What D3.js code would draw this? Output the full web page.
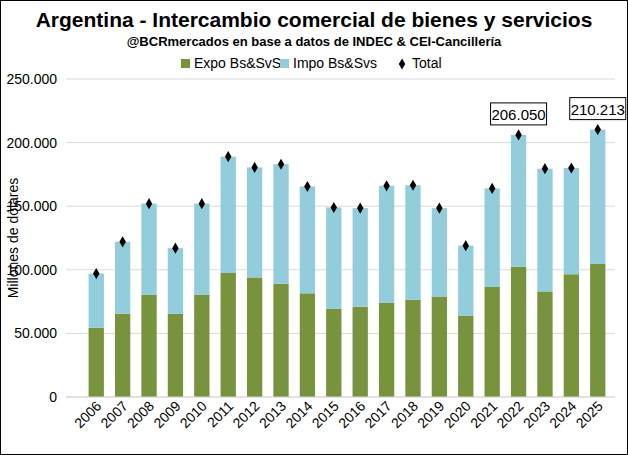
<!DOCTYPE html>
<html><head><meta charset="utf-8">
<script src="https://cdn.jsdelivr.net/npm/d3@7"></script>
<style>body{margin:0;background:#fff}svg{font-family:"Liberation Sans Narrow","Liberation Sans",sans-serif}</style>
</head><body><svg id="chart" width="628" height="455"></svg>
<script>
const years = ["2006","2007","2008","2009","2010","2011","2012","2013","2014","2015","2016","2017","2018","2019","2020","2021","2022","2023","2024","2025"];
const expo = [54500,65500,80500,65500,80500,97500,94000,89000,81500,69500,71000,74000,76500,79000,64000,86500,102500,83000,96500,104600];
const total = [97000,122000,152000,117000,152000,189000,180500,183000,165500,149000,148500,166000,166500,148500,119000,164000,206050,179500,180000,210213];
const impo = total.map((t, i) => t - expo[i]);
const yTicks = [0,50000,100000,150000,200000,250000];
const labelled = ["2022","2025"];

const svg = d3.select("#chart");
const fmt = v => d3.format(",")(v).replace(/,/g, ".");

svg.append("rect").attr("x",0.5).attr("y",0.5).attr("width",627).attr("height",454)
    .style("fill","#fff").style("stroke","#000");

const x = d3.scaleBand().domain(years).range([82, 612]).paddingInner(0.42).paddingOuter(0.25);
const y = d3.scaleLinear().domain([0, 250000]).range([397, 79]);

// gridlines
svg.append("g").selectAll("line").data(yTicks).enter().append("line")
    .attr("x1", 66).attr("x2", 615)
    .attr("y1", d => y(d)).attr("y2", d => y(d))
    .style("stroke", "#d9d9d9");

svg.append("g").selectAll("text").data(yTicks).enter().append("text")
    .attr("x", 57).attr("y", d => y(d) + 5)
    .attr("text-anchor", "end").style("font-size", "14px")
    .text(d => fmt(d));

// bars
svg.append("g").selectAll("rect").data(years).enter().append("rect")
    .attr("x", d => x(d)).attr("width", x.bandwidth())
    .attr("y", (d, i) => y(expo[i])).attr("height", (d, i) => y(0) - y(expo[i]))
    .style("fill", "#77933c");
svg.append("g").selectAll("rect").data(years).enter().append("rect")
    .attr("x", d => x(d)).attr("width", x.bandwidth())
    .attr("y", (d, i) => y(total[i])).attr("height", (d, i) => y(expo[i]) - y(total[i]))
    .style("fill", "#92cddc");

// total markers
svg.append("g").selectAll("path").data(years).enter().append("path")
    .attr("d", d3.symbol(d3.symbolDiamond, 36))
    .attr("transform", (d, i) => `translate(${x(d) + x.bandwidth() / 2},${y(total[i])})`)
    .style("fill", "#000");

// callouts
labelled.forEach(yr => {
    const i = years.indexOf(yr);
    const cx = x(yr) + x.bandwidth() / 2, cy = y(total[i]) - 20;
    const g = svg.append("g");
    g.append("rect").attr("x", cx - 28).attr("y", cy - 12).attr("width", 56).attr("height", 22)
        .style("fill", "#fff").style("stroke", "#000");
    g.append("text").attr("x", cx).attr("y", cy + 5).attr("text-anchor", "middle")
        .style("font-size", "15px").text(fmt(total[i]));
});

// x axis
svg.append("line").attr("x1", 66).attr("x2", 615).attr("y1", y(0)).attr("y2", y(0)).style("stroke", "#d9d9d9");
svg.append("g").selectAll("text").data(years).enter().append("text")
    .attr("transform", d => `translate(${x(d) + x.bandwidth() / 2 + 6},${y(0) + 10}) rotate(-45)`)
    .attr("text-anchor", "end").style("font-size", "14px")
    .text(d => d);

// axis title
svg.append("text").attr("transform", "translate(18,238) rotate(-90)")
    .attr("text-anchor", "middle").style("font-size", "14px").text("Millones de dólares");

// titles
svg.append("text").attr("x", 314).attr("y", 27).attr("text-anchor", "middle")
    .style("font-size", "21px").style("font-weight", "bold")
    .text("Argentina - Intercambio comercial de bienes y servicios");
svg.append("text").attr("x", 314).attr("y", 46).attr("text-anchor", "middle")
    .style("font-size", "13px").style("font-weight", "bold")
    .text("@BCRmercados  en base a datos de INDEC & CEI-Cancillería");

// legend
const legend = svg.append("g").style("font-size", "14px");
legend.append("rect").attr("x", 181).attr("y", 59).attr("width", 9).attr("height", 9).style("fill", "#77933c");
legend.append("text").attr("x", 194).attr("y", 68).text("Expo Bs&SvS");
legend.append("rect").attr("x", 280).attr("y", 59).attr("width", 9).attr("height", 9).style("fill", "#92cddc");
legend.append("text").attr("x", 293).attr("y", 68).text("Impo Bs&Svs");
legend.append("path").attr("d", d3.symbol(d3.symbolDiamond, 36)).attr("transform", "translate(402,64)");
legend.append("text").attr("x", 412).attr("y", 68).text("Total");
</script></body></html>
